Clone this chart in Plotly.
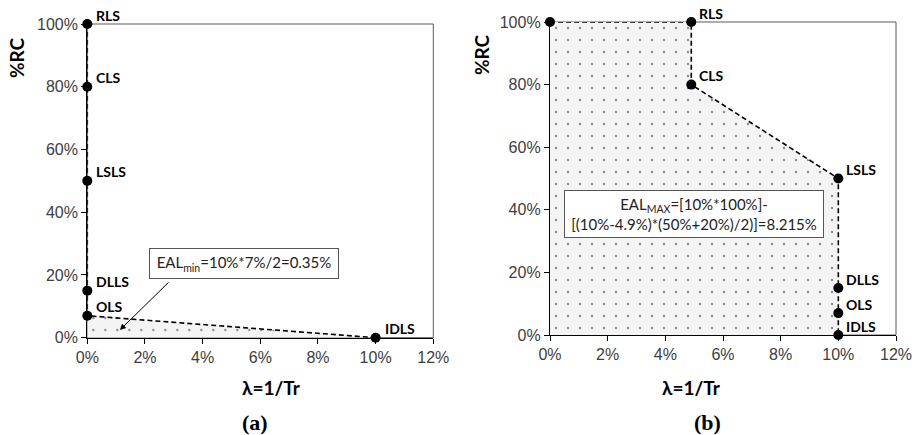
import plotly.graph_objects as go

# Limit-state points: lambda = 1/Tr (%), %RC
states_a = ["RLS", "CLS", "LSLS", "DLLS", "OLS", "IDLS"]
lam_a = [0, 0, 0, 0, 0, 10]
rc_a = [100, 80, 50, 15, 7, 0]

states_b = ["", "RLS", "CLS", "LSLS", "DLLS", "OLS", "IDLS"]
lam_b = [0, 4.9, 4.9, 10, 10, 10, 10]
rc_b = [100, 100, 80, 50, 15, 7, 0]

x_ticks = [0, 2, 4, 6, 8, 10, 12]
y_ticks = [0, 20, 40, 60, 80, 100]

LABEL_FONT = dict(family="Lato", size=14, color="black")
TICK_FONT = dict(family="Liberation Sans", size=16, color="#404040")
TITLE_FONT = dict(family="Lato", size=19, color="black")

fig = go.Figure()

pattern = dict(shape=".", bgcolor="#f3f4f3", fgcolor="#222222", size=12, solidity=0.03)
line_style = dict(color="black", width=1.6, dash="5px,3px")
marker_style = dict(color="black", size=10)

# (a) shaded area under the OLS-IDLS segment
fig.add_trace(go.Scatter(
    x=[lam_a[0], lam_a[4], lam_a[5], lam_a[0]],
    y=[0, rc_a[4], rc_a[5], 0],
    fill="toself", fillpattern=pattern, fillcolor="#f3f4f3",
    mode="none", xaxis="x", yaxis="y", hoverinfo="skip"))
fig.add_trace(go.Scatter(
    x=lam_a, y=rc_a, mode="lines+markers", line=line_style, marker=marker_style,
    xaxis="x", yaxis="y"))

# (b) shaded area under the maximum-loss curve
fig.add_trace(go.Scatter(
    x=[0] + lam_b + [0], y=[0] + rc_b + [0],
    fill="toself", fillpattern=pattern, fillcolor="#f3f4f3",
    mode="none", xaxis="x2", yaxis="y2", hoverinfo="skip"))
fig.add_trace(go.Scatter(
    x=lam_b, y=rc_b, mode="lines+markers", line=line_style, marker=marker_style,
    xaxis="x2", yaxis="y2"))

annotations = []
for name, xv, yv in zip(states_a, lam_a, rc_a):
    annotations.append(dict(x=xv, y=yv, xref="x", yref="y", text=f"<b>{name}</b>",
                            showarrow=False, xanchor="left", yanchor="middle",
                            xshift=7, yshift=9, font=LABEL_FONT))
for name, xv, yv in zip(states_b, lam_b, rc_b):
    if name:
        annotations.append(dict(x=xv, y=yv, xref="x2", yref="y2", text=f"<b>{name}</b>",
                                showarrow=False, xanchor="left", yanchor="middle",
                                xshift=6, yshift=9, font=LABEL_FONT))

# EAL boxes
annotations.append(dict(x=5.43, y=23.6, xref="x", yref="y",
                        text="EAL<sub>min</sub>=10%*7%/2=0.35%", showarrow=False,
                        font=dict(family="Lato", size=15, color="#222"),
                        bordercolor="#555", borderwidth=1, bgcolor="white",
                        width=186, height=27))
annotations.append(dict(x=1.13, y=2.45, xref="x", yref="y", ax=2.87, ay=18.1,
                        axref="x", ayref="y", text="", showarrow=True,
                        arrowhead=2, arrowsize=1.2, arrowwidth=1, arrowcolor="black"))
annotations.append(dict(x=4.99, y=38.7, xref="x2", yref="y2",
                        text="EAL<sub>MAX</sub>=[10%*100%]-<br>[(10%-4.9%)*(50%+20%)/2)]=8.215%",
                        showarrow=False, align="center",
                        font=dict(family="Lato", size=15, color="#222"),
                        bordercolor="#555", borderwidth=1, bgcolor="white",
                        width=256, height=44))

# Axis titles and panel captions
for xc, cap in [(0.2615, "(a)"), (0.7885, "(b)")]:
    annotations.append(dict(x=xc, y=48 / 435, xref="paper", yref="paper",
                            text="<b>λ=1/Tr</b>", showarrow=False, font=TITLE_FONT,
                            yanchor="middle"))
    annotations.append(dict(x=xc, y=13 / 435, xref="paper", yref="paper",
                            text=f"<b>{cap}</b>", showarrow=False,
                            font=dict(family="Liberation Serif", size=22, color="black"),
                            yanchor="middle"))
for xp, yp in [(17, 58), (482, 55)]:
    annotations.append(dict(x=xp / 917, y=1 - yp / 435, xref="paper", yref="paper",
                            text="<b>%RC</b>", showarrow=False, textangle=-90,
                            font=TITLE_FONT, xanchor="center", yanchor="middle"))

axis_common = dict(showgrid=False, zeroline=False, showline=True, linecolor="black",
                   linewidth=1.3, mirror=False, ticks="outside", ticklen=5,
                   tickcolor="black", tickfont=TICK_FONT, automargin=False)


def xaxis(domain, anchor):
    return dict(axis_common, domain=domain, anchor=anchor, range=[0, 12],
                tickvals=x_ticks, ticktext=[f"{v}%" for v in x_ticks])


def yaxis(domain, anchor):
    return dict(axis_common, domain=domain, anchor=anchor, range=[0, 100],
                tickvals=y_ticks, ticktext=[f"{v}%" for v in y_ticks])


shapes = []
for xr, yr in [("x domain", "y domain"), ("x2 domain", "y2 domain")]:
    shapes.append(dict(type="rect", xref=xr, yref=yr, x0=0, x1=1, y0=0, y1=1,
                       line=dict(color="#5a5a5a", width=1), layer="below"))

fig.update_layout(
    width=917, height=435, margin=dict(l=0, r=0, t=0, b=0, autoexpand=False),
    paper_bgcolor="white", plot_bgcolor="white", showlegend=False,
    xaxis=xaxis([87.3 / 917, 433.3 / 917], "y"),
    yaxis=yaxis([1 - 337.7 / 435, 1 - 24 / 435], "x"),
    xaxis2=xaxis([550 / 917, 896 / 917], "y2"),
    yaxis2=yaxis([1 - 335 / 435, 1 - 22 / 435], "x2"),
    annotations=annotations, shapes=shapes,
)
for tr in fig.data:
    tr.cliponaxis = False

fig.write_html("out.html")
